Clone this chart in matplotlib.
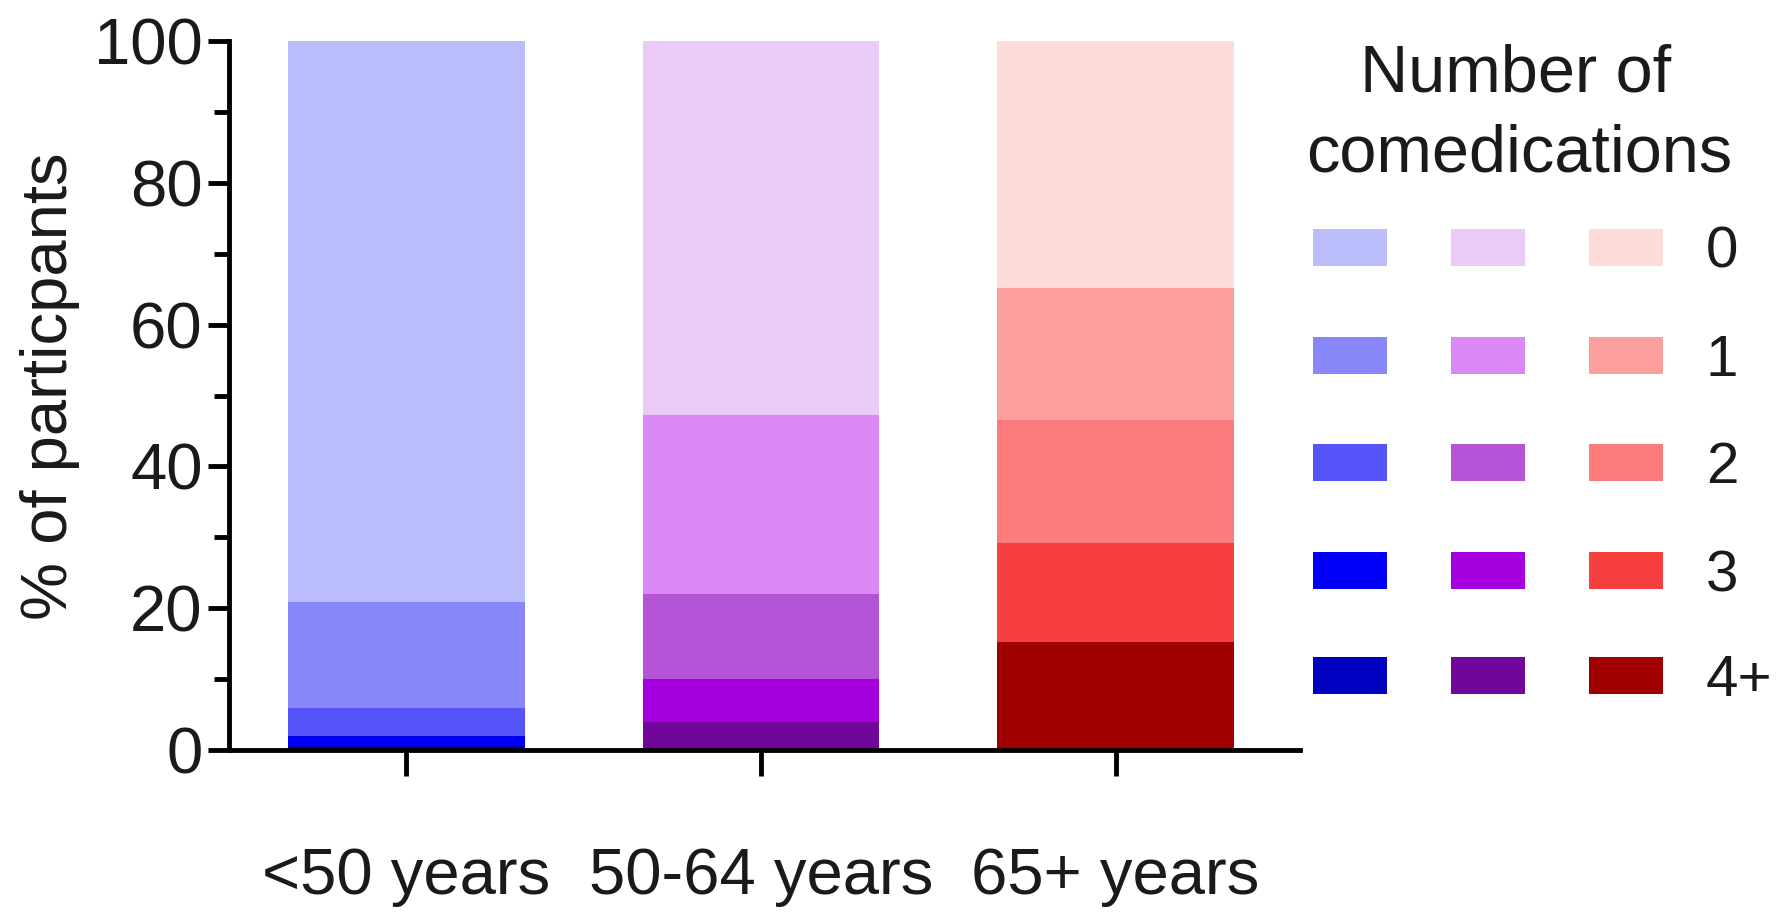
import matplotlib
matplotlib.use("Agg")
import matplotlib.pyplot as plt
from matplotlib.patches import Rectangle
from matplotlib.ticker import MultipleLocator

plt.rcParams['font.family'] = ['Liberation Sans', 'DejaVu Sans']

# ---- data ----
groups = ["<50 years", "50-64 years", "65+ years"]
levels = ["0", "1", "2", "3", "4+"]
# stacked percentages, bottom (4+) to top (0)
vals_4plus = [0.5, 4.0, 15.2]
vals_3 = [1.5, 6.0, 14.0]
vals_2 = [3.9, 12.0, 17.3]
vals_1 = [15.0, 25.3, 18.6]
vals_0 = [79.1, 52.7, 34.9]

# colours per group, ordered by level 0,1,2,3,4+
blues = ["#babcfc", "#8888fc", "#5454f8", "#0000fa", "#0000c0"]
purples = ["#eacbf6", "#d988f5", "#b355d6", "#a600e0", "#70069a"]
reds = ["#fddcdc", "#fc9e9e", "#fb7c7c", "#f73e3e", "#a10000"]
group_colors = [blues, purples, reds]

W, H = 1779, 915
fig = plt.figure(figsize=(W / 100, H / 100), dpi=100)
ax = fig.add_axes([229 / W, 1 - 750 / H, (1300 - 229) / W, (750 - 41) / H])

stack = {"4+": vals_4plus, "3": vals_3, "2": vals_2, "1": vals_1, "0": vals_0}
order = ["4+", "3", "2", "1", "0"]
x = list(range(len(groups)))
bottoms = [0.0] * len(groups)
for lvl in order:
    li = levels.index(lvl)
    cols = [group_colors[g][li] for g in range(len(groups))]
    ax.bar(x, stack[lvl], bottom=bottoms, width=0.667, color=cols, linewidth=0)
    bottoms = [b + v for b, v in zip(bottoms, stack[lvl])]

txt = "#1a1a1a"
ax.set_xlim(-0.5, 2.52)
ax.set_ylim(0, 100)
ax.set_xticks(x)
ax.set_xticklabels(groups, fontsize=47, color=txt)
ax.yaxis.set_major_locator(MultipleLocator(20))
ax.yaxis.set_minor_locator(MultipleLocator(10))
ax.tick_params(axis='y', which='major', length=15, width=3.5, labelsize=47, pad=4,
               labelcolor=txt)
ax.tick_params(axis='y', which='minor', length=11, width=3.5)
ax.tick_params(axis='x', which='major', length=19, width=3.5, pad=51)
for s in ["top", "right"]:
    ax.spines[s].set_visible(False)
for s in ["left", "bottom"]:
    ax.spines[s].set_linewidth(3.5)
ax.set_ylabel("% of particpants", fontsize=47, color=txt)
ax.yaxis.set_label_coords(-0.139, 0.513)

# ---- legend (manual grid) ----
fig.text(1516 / W, 1 - 92 / H, "Number of", ha='center', va='baseline', fontsize=48, color=txt)
fig.text(1519 / W, 1 - 172 / H, "comedications", ha='center', va='baseline', fontsize=48,
         color=txt)
col_x = [1313, 1451, 1589]
pw, ph = 74, 37
row_y = [247, 355, 462, 570, 675]
for gi, cols in enumerate(group_colors):
    for li, c in enumerate(cols):
        fig.add_artist(Rectangle((col_x[gi] / W, 1 - (row_y[li] + ph / 2) / H), pw / W, ph / H,
                                 transform=fig.transFigure, facecolor=c, edgecolor='none'))
for li, lab in enumerate(levels):
    fig.text(1706 / W, 1 - row_y[li] / H, lab, ha='left', va='center_baseline', fontsize=42,
             color=txt)

fig.savefig("out.png", dpi=100)
